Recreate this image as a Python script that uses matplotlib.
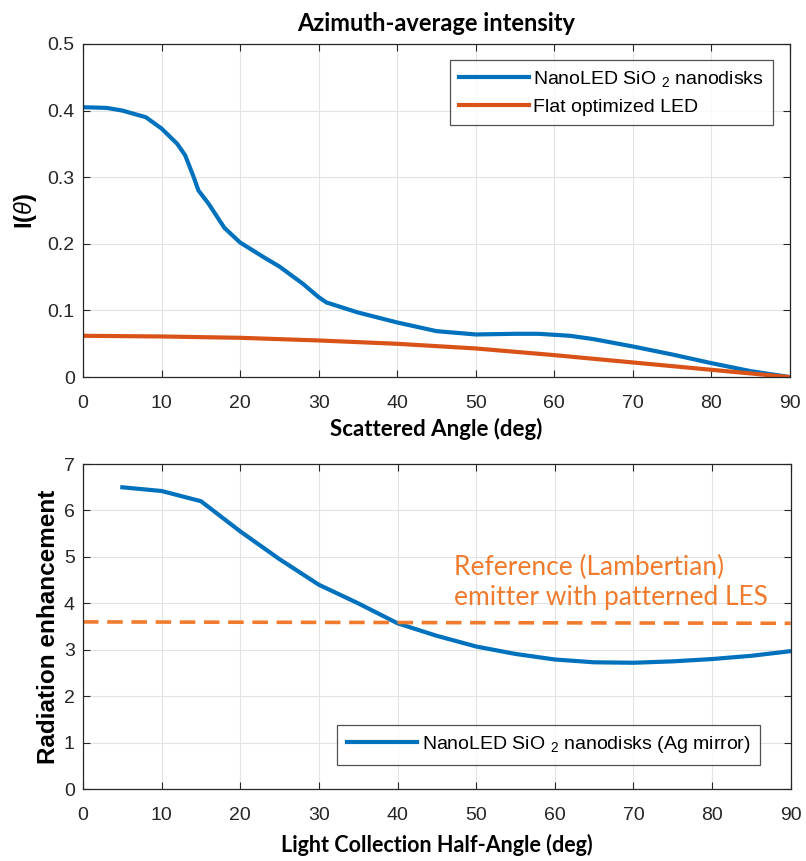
import matplotlib
matplotlib.use("Agg")
import matplotlib.pyplot as plt

# Top panel data
theta_nano = [0, 3, 5, 8, 10, 12, 13, 14, 14.7, 16, 18, 20, 23, 25, 28, 30, 31, 35, 40, 45, 50, 55, 58, 62, 65, 70, 75, 80, 85, 90]
I_nano = [0.405, 0.404, 0.40, 0.39, 0.373, 0.35, 0.333, 0.303, 0.28, 0.26, 0.224, 0.202, 0.18, 0.166, 0.14, 0.12, 0.112, 0.097, 0.082, 0.069, 0.064, 0.065, 0.065, 0.062, 0.057, 0.046, 0.034, 0.021, 0.009, 0.0]
theta_flat = [0, 10, 20, 30, 40, 50, 60, 70, 80, 90]
I_flat = [0.062, 0.061, 0.059, 0.055, 0.050, 0.043, 0.033, 0.022, 0.011, 0.0]

# Bottom panel data
half_angle = [5, 10, 15, 20, 25, 30, 35, 40, 45, 50, 55, 60, 65, 70, 75, 80, 85, 90]
enhancement = [6.5, 6.42, 6.2, 5.55, 4.95, 4.4, 4.0, 3.57, 3.3, 3.07, 2.91, 2.79, 2.73, 2.72, 2.75, 2.8, 2.87, 2.97]
ref_x = [0, 90]
ref_y = [3.6, 3.57]

blue = "#0072BD"
orange = "#D95319"
orange2 = "#F07B2E"
tickc = "#262626"

plt.rcParams['font.family'] = ['Liberation Sans', 'DejaVu Sans']
plt.rcParams['mathtext.fontset'] = 'custom'
plt.rcParams['mathtext.rm'] = 'Liberation Sans'
plt.rcParams['mathtext.it'] = 'Liberation Sans:italic'
plt.rcParams['mathtext.bf'] = 'Liberation Sans:bold'

fig = plt.figure(figsize=(8.06, 8.61), dpi=100)
ax1 = fig.add_axes([0.103, 0.562, 0.877, 0.387])
ax2 = fig.add_axes([0.103, 0.0836, 0.878, 0.3774])

def style(ax):
    ax.grid(True, color="#e3e3e3", linewidth=0.8)
    ax.set_axisbelow(True)
    ax.tick_params(direction='in', top=True, right=True, length=5, labelsize=14, colors=tickc)
    ax.tick_params(axis='x', pad=13)
    ax.tick_params(axis='y', pad=6)
    for s in ax.spines.values():
        s.set_color(tickc)
        s.set_linewidth(0.9)

ax1.plot(theta_nano, I_nano, color=blue, lw=3, label="NanoLED SiO $_2$ nanodisks")
ax1.plot(theta_flat, I_flat, color=orange, lw=3, label="Flat optimized LED")
ax1.set_xlim(0, 90)
ax1.set_ylim(0, 0.5)
ax1.set_xticks(range(0, 91, 10))
ax1.set_yticks([0, 0.1, 0.2, 0.3, 0.4, 0.5])
ax1.set_yticklabels(["0", "0.1", "0.2", "0.3", "0.4", "0.5"])
style(ax1)
ax1.set_title("Azimuth-average intensity", fontsize=17, fontweight='bold', family='Lato', pad=9)
ax1.set_xlabel("Scattered Angle (deg)", fontsize=16, fontweight='bold', family='Lato', labelpad=4)
ax1.set_ylabel(r"I($\theta$)", fontsize=17, fontweight='bold', labelpad=6)
leg1 = ax1.legend(loc='upper right', bbox_to_anchor=(0.976, 0.952), borderaxespad=0, fontsize=14,
                  handlelength=3.6, handletextpad=0.25, frameon=True, fancybox=False,
                  edgecolor="#262626", borderpad=0.45, labelspacing=0.5)
leg1.get_frame().set_linewidth(0.9)

ax2.plot(half_angle, enhancement, color=blue, lw=3, label="NanoLED SiO $_2$ nanodisks (Ag mirror)")
ax2.plot(ref_x, ref_y, color=orange2, lw=2.6, ls=(0, (4.3, 2.4)))
ax2.set_xlim(0, 90)
ax2.set_ylim(0, 7)
ax2.set_xticks(range(0, 91, 10))
ax2.set_yticks(range(0, 8))
style(ax2)
ax2.set_xlabel("Light Collection Half-Angle (deg)", fontsize=15.5, fontweight='bold', family='Lato', labelpad=7)
ax2.set_ylabel("Radiation enhancement", fontsize=17.5, fontweight='bold', labelpad=3)
ax2.text(47.2, 4.45, "Reference (Lambertian)\nemitter with patterned LES", color=orange2, fontsize=19,
         family='Lato', va='center', ha='left', linespacing=1.25)
leg2 = ax2.legend(loc='lower left', bbox_to_anchor=(0.359, 0.074), borderaxespad=0, fontsize=14,
                  handlelength=3.6, handletextpad=0.25, frameon=True, fancybox=False,
                  edgecolor="#262626", borderpad=0.5)
leg2.get_frame().set_linewidth(0.9)

fig.savefig("out.png", dpi=100)
